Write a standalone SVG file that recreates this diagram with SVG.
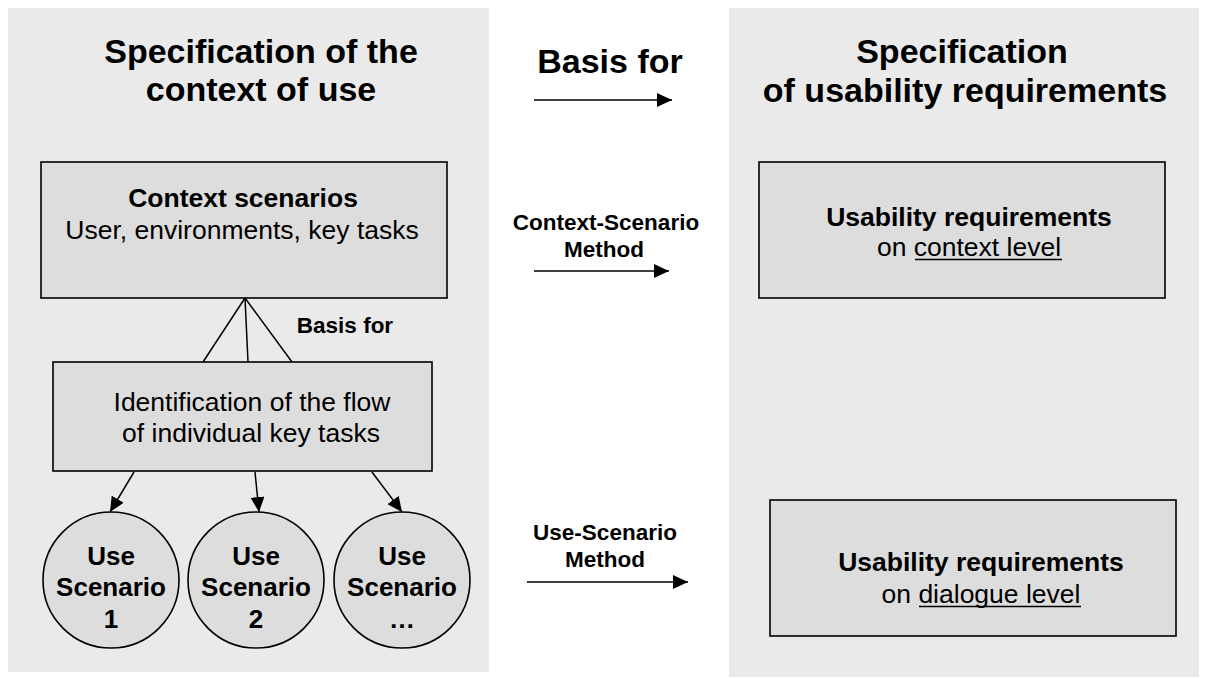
<svg xmlns="http://www.w3.org/2000/svg" width="1206" height="679" viewBox="0 0 1206 679">
  <style>
    text { font-family: "Liberation Sans", Arial, sans-serif; fill: #000; text-anchor: middle; }
    .title { font-size: 34px; font-weight: bold; }
    .label { font-size: 22.5px; font-weight: bold; }
    .bold { font-size: 26.5px; font-weight: bold; }
    .reg { font-size: 26.5px; }
    .circ { font-size: 26px; font-weight: bold; }
    .panel { fill: #EAEAEA; stroke: none; }
    .box { fill: #DDDDDD; stroke: #000; stroke-width: 1.6; }
    .conn { stroke: #000; stroke-width: 1.5; fill: none; }
    .uline { stroke: #000; stroke-width: 1.3; }
  </style>
  <defs>
    <marker id="head" markerUnits="userSpaceOnUse" markerWidth="16" markerHeight="14" refX="15" refY="7" orient="auto">
      <path d="M0,0 L15,7 L0,14 z" fill="#000"/>
    </marker>
  </defs>

  <rect width="1206" height="679" fill="#FFFFFF"/>

  <!-- background panels -->
  <rect id="panel-context" class="panel" x="8" y="8" width="481" height="664"/>
  <rect id="panel-requirements" class="panel" x="729" y="8" width="470" height="669"/>

  <!-- panel headings -->
  <g id="heading-context">
    <text class="title" x="261" y="63">Specification of the</text>
    <text class="title" x="261" y="101">context of use</text>
  </g>
  <g id="heading-requirements">
    <text class="title" x="962" y="63">Specification</text>
    <text class="title" x="965" y="102">of usability requirements</text>
  </g>

  <!-- nodes -->
  <g id="context-scenarios">
    <rect class="box" x="41" y="162" width="406" height="136"/>
    <text class="bold" x="243" y="207">Context scenarios</text>
    <text class="reg" x="242" y="239">User, environments, key tasks</text>
  </g>

  <g id="flow-identification">
    <rect class="box" x="53" y="362" width="379" height="109"/>
    <text class="reg" x="252" y="411">Identification of the flow</text>
    <text class="reg" x="251" y="442">of individual key tasks</text>
  </g>

  <g id="use-scenario-1">
    <circle class="box" cx="111" cy="580" r="68"/>
    <text class="circ" x="111" y="565">Use</text>
    <text class="circ" x="111" y="596">Scenario</text>
    <text class="circ" x="111" y="628">1</text>
  </g>
  <g id="use-scenario-2">
    <circle class="box" cx="256" cy="580" r="68"/>
    <text class="circ" x="256" y="565">Use</text>
    <text class="circ" x="256" y="596">Scenario</text>
    <text class="circ" x="256" y="628">2</text>
  </g>
  <g id="use-scenario-n">
    <circle class="box" cx="402" cy="580" r="68"/>
    <text class="circ" x="402" y="565">Use</text>
    <text class="circ" x="402" y="596">Scenario</text>
    <text class="circ" x="402" y="628">…</text>
  </g>

  <g id="req-context-level">
    <rect class="box" x="759" y="162" width="406" height="136"/>
    <text class="bold" x="969" y="226">Usability requirements</text>
    <text class="reg" x="969" y="256">on context level</text>
    <line class="uline" x1="915" y1="259.5" x2="1062" y2="259.5"/>
  </g>

  <g id="req-dialogue-level">
    <rect class="box" x="770" y="500" width="406" height="136"/>
    <text class="bold" x="981" y="571">Usability requirements</text>
    <text class="reg" x="981" y="603">on dialogue level</text>
    <line class="uline" x1="919" y1="606.5" x2="1081" y2="606.5"/>
  </g>

  <!-- connectors -->
  <g id="connectors">
    <!-- tree from context scenarios down to flow identification -->
    <line class="conn" x1="245" y1="298" x2="203" y2="362"/>
    <line class="conn" x1="245" y1="298" x2="248" y2="362"/>
    <line class="conn" x1="245" y1="298" x2="292" y2="362"/>
    <text class="label" x="345" y="333">Basis for</text>

    <!-- flow identification to use scenarios -->
    <line class="conn" x1="134" y1="472" x2="110" y2="512" marker-end="url(#head)"/>
    <line class="conn" x1="255" y1="472" x2="259" y2="512" marker-end="url(#head)"/>
    <line class="conn" x1="372" y1="472" x2="402" y2="512" marker-end="url(#head)"/>

    <!-- between the panels -->
    <text class="title" x="610" y="73">Basis for</text>
    <line class="conn" x1="534" y1="100" x2="672" y2="100" marker-end="url(#head)"/>

    <text class="label" x="606" y="230">Context-Scenario</text>
    <text class="label" x="604" y="257">Method</text>
    <line class="conn" x1="534" y1="271" x2="669" y2="271" marker-end="url(#head)"/>

    <text class="label" x="605" y="540">Use-Scenario</text>
    <text class="label" x="605" y="567">Method</text>
    <line class="conn" x1="527" y1="582" x2="688" y2="582" marker-end="url(#head)"/>
  </g>
</svg>
